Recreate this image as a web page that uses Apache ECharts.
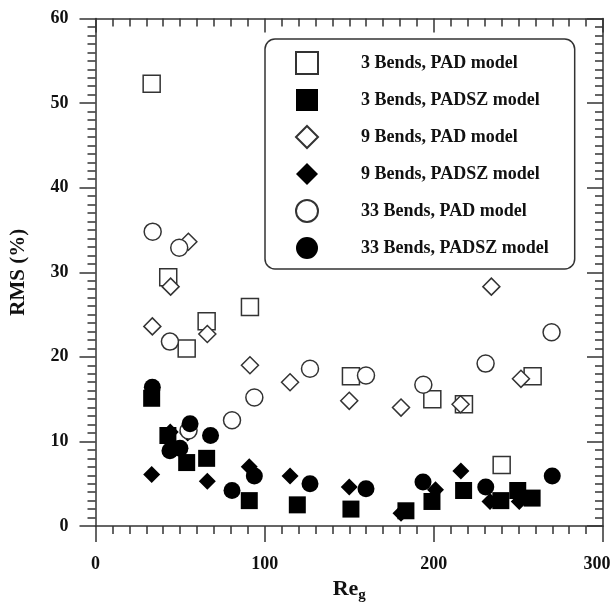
<!DOCTYPE html>
<html><head><meta charset="utf-8">
<script src="https://cdn.jsdelivr.net/npm/echarts@6/dist/echarts.min.js"></script>
<style>html,body{margin:0;padding:0;background:#fff}#c{width:612px;height:603px}</style>
</head><body><div id="c"></div>
<script>
const seriesNames = ['3 Bends, PAD model','3 Bends, PADSZ model','9 Bends, PAD model','9 Bends, PADSZ model','33 Bends, PAD model','33 Bends, PADSZ model'];
const bends3PAD = [[33.2,52.3],[43.0,29.4],[53.9,21.0],[65.7,24.2],[91.3,25.9],[151.0,17.7],[199.1,15.0],[217.8,14.4],[240.1,7.2],[258.4,17.7]];
const bends3PADSZ = [[33.2,15.1],[42.8,10.7],[53.9,7.5],[65.7,8.0],[90.9,3.0],[119.3,2.5],[151.0,2.0],[183.5,1.8],[198.9,2.9],[217.6,4.2],[239.6,3.0],[249.6,4.2],[258.1,3.3]];
const bends9PAD = [[33.6,23.6],[44.4,28.3],[54.9,33.6],[66.1,22.7],[91.3,19.0],[115.0,17.0],[150.0,14.8],[180.6,14.0],[215.8,14.4],[234.0,28.3],[251.5,17.4]];
const bends9PADSZ = [[33.2,6.1],[44.2,11.1],[54.5,11.0],[66.1,5.3],[90.9,7.0],[115.0,5.9],[150.0,4.6],[180.6,1.5],[201.0,4.3],[216.0,6.5],[233.2,2.9],[250.5,2.9]];
const bends33PAD = [[33.8,34.8],[44.0,21.8],[49.5,32.9],[55.0,11.3],[80.7,12.5],[93.9,15.2],[126.8,18.6],[159.9,17.8],[193.8,16.7],[230.6,19.2],[269.6,22.9]];
const bends33PADSZ = [[33.6,16.4],[44.0,8.9],[49.9,9.2],[55.9,12.1],[68.0,10.7],[80.7,4.2],[93.9,5.9],[126.8,5.0],[159.9,4.4],[193.6,5.2],[230.7,4.6],[270.0,5.9]];
const xTicks = {min:0, max:300, interval:100};
const yTicks = {min:0, max:60, interval:10};

const FONT = 'Liberation Serif';
const AX = '#333';
const open = {color:'#fff', borderColor:'#333', borderWidth:1.5, opacity:1};
const filled = {color:'#000', borderColor:'#000', borderWidth:0, opacity:1};
const symbols = ['rect','rect','diamond','diamond','circle','circle'];
const datas = [bends3PAD,bends3PADSZ,bends9PAD,bends9PADSZ,bends33PAD,bends33PADSZ];

const chart = echarts.init(document.getElementById('c'));
const lineStyle = {color:AX, width:1.5};
chart.setOption({
  animation:false,
  backgroundColor:'#fff',
  grid:{left:95.5, right:9, top:18.5, bottom:77, containLabel:false, outerBoundsMode:'none'},
  legend:{
    orient:'vertical', left:265, top:39, padding:[12,26,10,30], itemGap:14,
    itemWidth:22, itemHeight:22, borderColor:AX, borderWidth:1.5, borderRadius:10,
    data:seriesNames,
    textStyle:{fontFamily:FONT, fontWeight:'bold', fontSize:18, color:'#111', padding:[0,0,0,38]}
  },
  xAxis:[
    {type:'value', position:'bottom', min:xTicks.min, max:xTicks.max, interval:xTicks.interval,
     axisLine:{show:true, onZero:false, lineStyle}, axisTick:{show:true, inside:false, length:16, lineStyle},
     minorTick:{show:true, splitNumber:10, length:8, lineStyle}, splitLine:{show:false}, minorSplitLine:{show:false},
     axisLabel:{margin:29, fontFamily:FONT, fontWeight:'bold', fontSize:18, color:'#111',
       formatter: v => v === xTicks.max ? '{r|' + v + '}' : String(v),
       rich:{r:{fontFamily:FONT, fontWeight:'bold', fontSize:18, color:'#111', padding:[0,12,0,0]}}},
     name:'{a|Re}{b|g}', nameLocation:'middle', nameGap:46,
     nameTextStyle:{rich:{a:{fontFamily:FONT, fontWeight:'bold', fontSize:22, color:'#111', verticalAlign:'top'},
                          b:{fontFamily:FONT, fontWeight:'bold', fontSize:15, color:'#111', verticalAlign:'top', padding:[10,0,0,0]}}}},
    {type:'value', position:'top', min:xTicks.min, max:xTicks.max, interval:xTicks.interval,
     axisLine:{show:true, onZero:false, lineStyle}, axisTick:{show:true, inside:true, length:14, lineStyle},
     minorTick:{show:true, splitNumber:10, length:8, lineStyle}, splitLine:{show:false}, axisLabel:{show:false}}
  ],
  yAxis:[
    {type:'value', position:'left', min:yTicks.min, max:yTicks.max, interval:yTicks.interval,
     axisLine:{show:true, onZero:false, lineStyle}, axisTick:{show:true, inside:false, length:16, lineStyle},
     minorTick:{show:true, splitNumber:10, length:8, lineStyle}, splitLine:{show:false}, minorSplitLine:{show:false},
     axisLabel:{margin:27, fontFamily:FONT, fontWeight:'bold', fontSize:18, color:'#111'},
     name:'RMS (%)', nameLocation:'middle', nameGap:66,
     nameTextStyle:{fontFamily:FONT, fontWeight:'bold', fontSize:21, color:'#111'}},
    {type:'value', position:'right', min:yTicks.min, max:yTicks.max, interval:yTicks.interval,
     axisLine:{show:true, onZero:false, lineStyle}, axisTick:{show:true, inside:true, length:16, lineStyle},
     minorTick:{show:true, splitNumber:10, length:8, lineStyle}, splitLine:{show:false}, axisLabel:{show:false}}
  ],
  series: seriesNames.map((n,i)=>({
    name:n, type:'scatter', xAxisIndex:0, yAxisIndex:0,
    symbol:symbols[i], symbolSize:17,
    itemStyle: (i%2===0) ? open : filled,
    emphasis:{disabled:true},
    data:datas[i]
  }))
});
</script></body></html>
